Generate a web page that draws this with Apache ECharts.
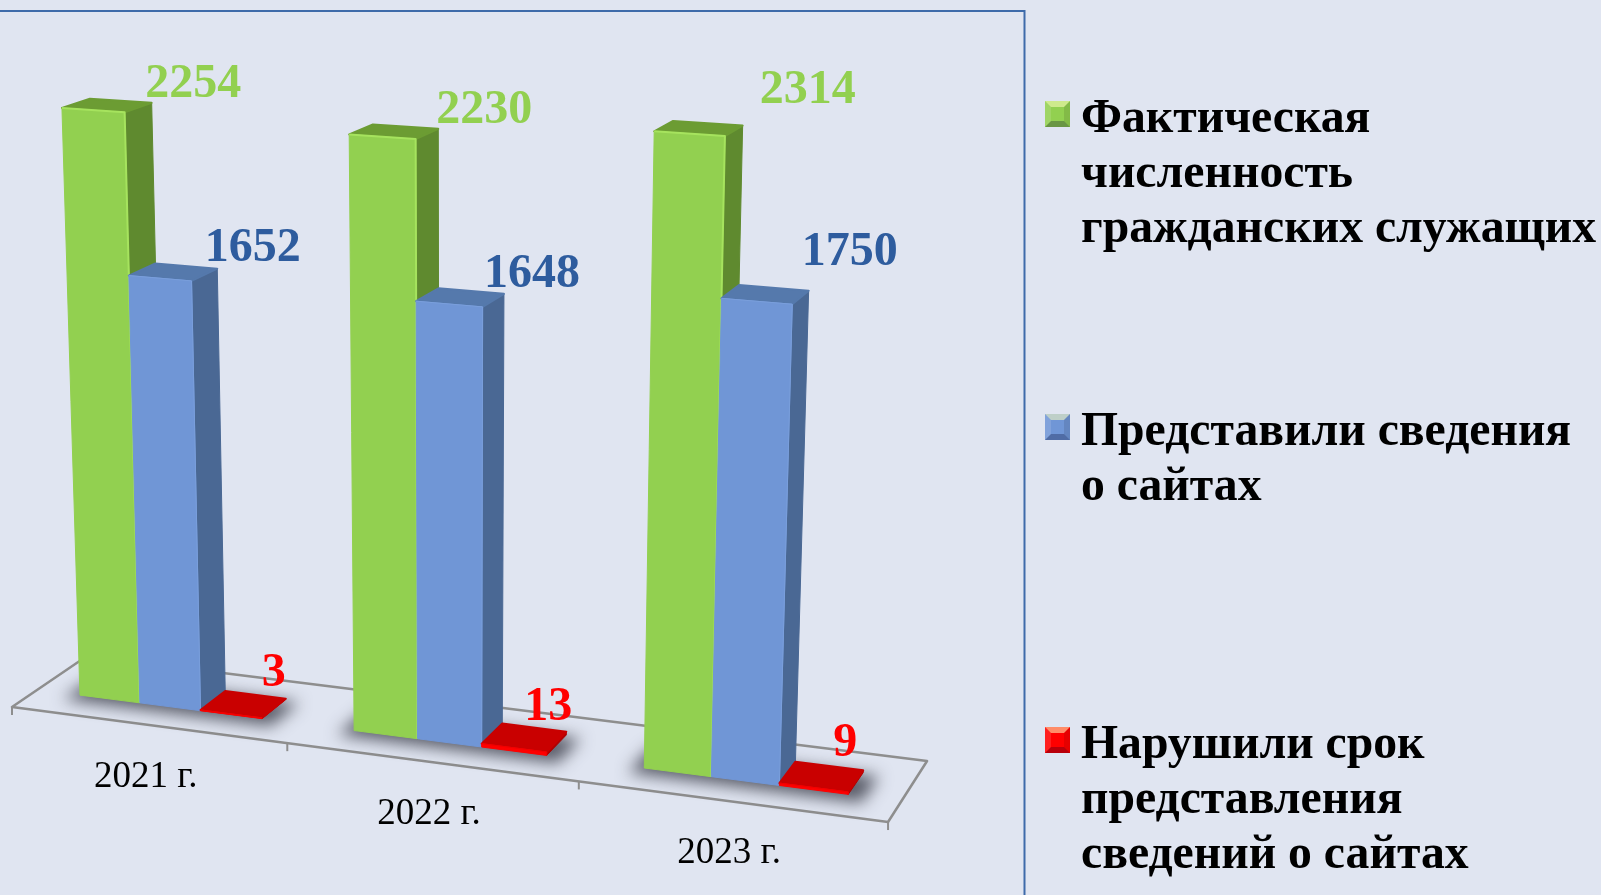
<!DOCTYPE html>
<html><head><meta charset="utf-8">
<style>html,body{margin:0;padding:0;background:#E0E5F1}#c{width:1601px;height:895px}</style>
<script src="https://cdn.jsdelivr.net/npm/echarts@6/dist/echarts.min.js"></script>
</head><body><div id="c"></div>
<script>
const categories = ['2021 г.', '2022 г.', '2023 г.'];
const staffActual = [2254, 2230, 2314];
const staffReported = [1652, 1648, 1750];
const staffLate = [3, 13, 9];
const seriesNames = [
  'Фактическая численность гражданских служащих',
  'Представили сведения о сайтах',
  'Нарушили срок представления сведений о сайтах'
];
const legendLines = [
  'Фактическая\nчисленность\nгражданских служащих',
  'Представили сведения\nо сайтах\n ',
  'Нарушили срок\nпредставления\nсведений о сайтах'
];

const FONT = '"Liberation Serif","Times New Roman",serif';
const Y_MAX = 2500;

// Camera: floor homography (unit square to screen) plus the vanishing point of the verticals.
const CAM = {a:801.9,b:79.06,c:12,d:46.4,e:-20.4,f:707,g:-0.0835,h:0.0467,vx:455,vy:12900,k:-0.0464/2254};
function project(u, v, z) {
  const p = u / categories.length;
  const w = 1 + CAM.g * p + CAM.h * v, t = CAM.k * z;
  return [(CAM.a*p + CAM.b*v + CAM.c + t*CAM.vx) / (w+t), (CAM.d*p + CAM.e*v + CAM.f + t*CAM.vy) / (w+t)];
}
const BAR_START = 0.16, BAR_U = 0.2233, V_FRONT = 0.33, V_BACK = 0.69;

const looks = [
  {front:'#92D050', side:'#5F8A2F', top:'#6C9C33', edge:'#A6E35E', text:'#92D050'},
  {front:'#7096D6', side:'#4A6894', top:'#5579AC', edge:'#7A9FDC', text:'#2E5C9E'},
  {front:'#FF0000', side:'#B00000', top:'#C90000', edge:'#F00000', text:'#FF0000'}
];
// Hand placement of the value labels relative to the bar's rear top corner.
const labelNudge = [
  [[41.5,-18.5],[35.5,-20],[-12,-25]],
  [[46,-18.5],[28,-19],[-18,-24]],
  [[65,-34.5],[41,-38],[-18,-27]]
];

function poly(points, fill, extra) {
  return {type:'polygon', shape:{points}, style:Object.assign({fill}, extra||{})};
}
function flat(params, api) {
  const i = api.value(0), val = api.value(1);
  const c = api.coord([i, val]), cs = params.coordSys, band = api.size([1,0])[0];
  return {i, val, u:(c[0]-band/2-cs.x)/band, z:(cs.y+cs.height-c[1])/cs.height*Y_MAX};
}
function barRenderer(k) {
  return function (params, api) {
    const {i, val, u, z} = flat(params, api);
    const u0 = u + BAR_START + k*BAR_U, u1 = u0 + BAR_U, L = looks[k];
    const fl0 = project(u0,V_FRONT,0), fr0 = project(u1,V_FRONT,0), br0 = project(u1,V_BACK,0);
    const fl = project(u0,V_FRONT,z), fr = project(u1,V_FRONT,z), br = project(u1,V_BACK,z), bl = project(u0,V_BACK,z);
    const n = labelNudge[i][k];
    return {type:'group', children:[
      poly([fr0,br0,br,fr], L.side, {stroke:L.side, lineWidth:1, lineJoin:'round'}),
      poly([fl,fr,br,bl], L.top, {stroke:L.top, lineWidth:2, lineJoin:'round'}),
      poly([fl0,fr0,fr,fl], L.front, {stroke:L.front, lineWidth:1}),
      {type:'polyline', shape:{points:[fl,fr,fr0]}, style:{fill:null, stroke:L.edge, lineWidth:k===0?2:1, lineJoin:'round'}},
      {type:'text', style:{text:String(val), x:br[0]+n[0], y:br[1]+n[1], align:'center', verticalAlign:'middle',
        fill:L.text, font:'bold 48px '+FONT}}
    ]};
  };
}
function floorRenderer(params, api) {
  const {i, u} = flat(params, api);
  const n = categories.length, kids = [], line = {fill:null, stroke:'#8E8E8E', lineWidth:2.5, lineJoin:'round'};
  if (i === 0) {
    kids.push({type:'polygon', shape:{points:[project(0,0,0),project(n,0,0),project(n,1,0),project(0,1,0)]}, style:line});
    const t = project(0,0,0);
    kids.push({type:'line', shape:{x1:t[0],y1:t[1],x2:t[0],y2:t[1]+8}, style:{stroke:'#8E8E8E',lineWidth:2}});
  }
  const e = project(u+1,0,0);
  kids.push({type:'line', shape:{x1:e[0],y1:e[1],x2:e[0],y2:e[1]+8}, style:{stroke:'#8E8E8E',lineWidth:2}});
  const m = project(u+0.5,0,0);
  kids.push({type:'text', style:{text:categories[i], x:m[0]-2, y:m[1]+52, align:'center', verticalAlign:'middle',
    fill:'#000', font:'37px '+FONT}});
  // Soft contact shadow: the polygon itself sits off-canvas, only its blurred shadow lands on the floor.
  const OFF = 3000;
  const pts = [project(u+0.125,0.23,0), project(u+0.885,0.23,0), project(u+0.885,0.66,0), project(u+0.125,0.66,0)]
    .map(p => [p[0]-OFF, p[1]]);
  kids.push(poly(pts, '#555', {shadowBlur:16, shadowColor:'rgba(66,68,80,0.85)', shadowOffsetX:OFF, shadowOffsetY:0}));
  return {type:'group', children:kids};
}

const pairs = v => categories.map((c,i) => [c, v[i]]);
const bars = [staffActual, staffReported, staffLate].map((vals,k) => ({
  name: seriesNames[k], type:'custom', silent:true, coordinateSystem:'cartesian2d',
  itemStyle:{color:looks[k].front}, encode:{x:0,y:1}, data:pairs(vals),
  renderItem:barRenderer(k)
}));

// Legend bevels drawn over the plain legend squares.
function bevel(y) {
  const x0=1045,x1=1070,y1=y+26,d=6;
  return [
    [[x0,y],[x1,y],[x1-d,y+d],[x0+d,y+d],'rgba(255,255,190,0.55)'],
    [[x0,y1],[x1,y1],[x1-d,y1-d],[x0+d,y1-d],'rgba(0,0,40,0.28)'],
    [[x0,y],[x0+d,y+d],[x0+d,y1-d],[x0,y1],'rgba(255,255,255,0.12)'],
    [[x1,y],[x1-d,y+d],[x1-d,y1-d],[x1,y1],'rgba(0,0,0,0.10)']
  ].map(q => ({type:'polygon', z:20, silent:true, shape:{points:q.slice(0,4)}, style:{fill:q[4]}}));
}

const chart = echarts.init(document.getElementById('c'));
chart.setOption({
  animation:false,
  backgroundColor:'#E0E5F1',
  tooltip:{show:false},
  grid:{left:12, top:60, width:876, height:640},
  xAxis:{type:'category', data:categories, show:false},
  yAxis:{type:'value', min:0, max:Y_MAX, show:false},
  legend:{
    orient:'vertical', left:1045, top:92, padding:0, itemGap:148, selectedMode:false,
    itemWidth:31, itemHeight:165, symbolKeepAspect:false,
    icon:'path://M0 0L0 0ZM0 9H25V35H0ZM31 165L31 165Z',
    data:seriesNames,
    formatter:n => legendLines[seriesNames.indexOf(n)],
    textStyle:{fontFamily:FONT, fontWeight:'bold', fontSize:47.7, lineHeight:55, color:'#000'}
  },
  graphic:[
    {type:'rect', silent:true, z:15, shape:{x:-10,y:11,width:1034.5,height:900},
      style:{fill:null, stroke:'#3E6BAA', lineWidth:2}},
    ...bevel(101), ...bevel(414), ...bevel(727)
  ],
  series:[
    {type:'custom', coordinateSystem:'cartesian2d', silent:true, encode:{x:0,y:1},
      data:categories.map(c => [c,0]), renderItem:floorRenderer},
    ...bars
  ]
});
</script></body></html>
